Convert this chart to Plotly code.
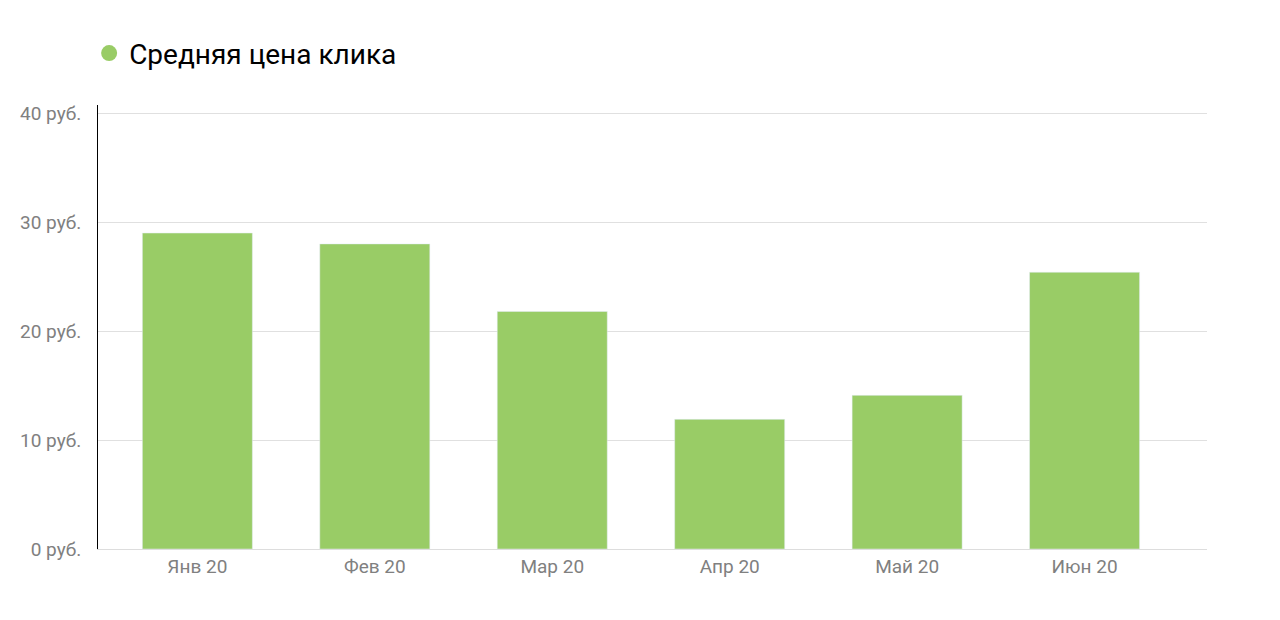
import plotly.graph_objects as go

months = ["Янв 20", "Фев 20", "Мар 20", "Апр 20", "Май 20", "Июн 20"]
values = [29.0, 28.0, 21.8, 11.9, 14.1, 25.4]
tick_vals = [0, 10, 20, 30, 40]
tick_text = ["0 руб.", "10 руб.", "20 руб.", "30 руб.", "40 руб."]
series_name = "Средняя цена клика"
green = "#99cc66"

fig = go.Figure()
fig.add_trace(go.Bar(x=months, y=values, marker_color=green, showlegend=False))
fig.add_trace(go.Scatter(x=[months[0]], y=[None], mode="markers", name=series_name,
                         marker=dict(symbol="circle", size=22, color=green)))
fig.update_layout(
    width=1280, height=620, plot_bgcolor="white", paper_bgcolor="white",
    margin=dict(l=87, r=81, t=97, b=79),
    bargap=0.38,
    font=dict(family="Roboto", size=19, color="#808080"),
    legend=dict(orientation="h", x=-0.008, y=1.06, xanchor="left", yanchor="bottom",
                font=dict(size=28, color="#000000"), itemsizing="trace"),
    xaxis=dict(showgrid=False, showline=True, linecolor="#dddddd", ticks="",
               range=[-0.56, 5.69], tickfont=dict(size=19)),
    yaxis=dict(range=[0, 40.75], tickvals=tick_vals, ticktext=tick_text, gridcolor="#e0e0e0",
               showline=True, linecolor="#000000", zeroline=False, ticks="", ticklabelstandoff=12),
)
fig.write_html("out.html")
